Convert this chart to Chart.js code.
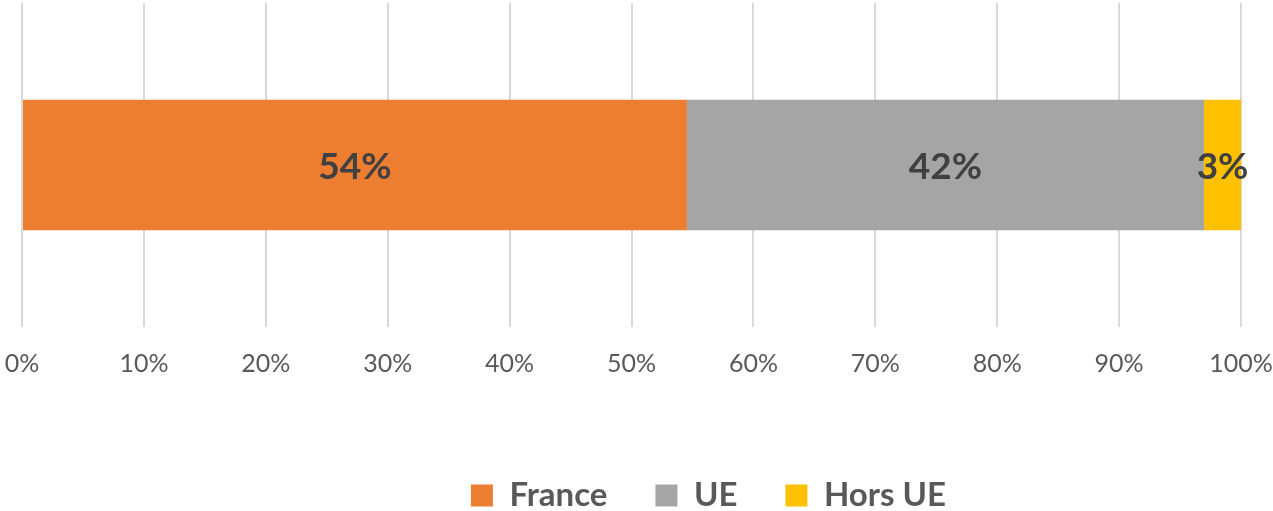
<!DOCTYPE html>
<html lang="fr">
<head>
<meta charset="UTF-8">
<title>France / UE / Hors UE</title>
<style>
  body { margin: 0; background: #fff; }
  .chart-box { position: relative; width: 1273px; height: 511px; }
</style>
</head>
<body>
<div class="chart-box"><canvas id="chart"></canvas></div>
<script src="https://cdn.jsdelivr.net/npm/chart.js"></script>
<script>
  // données
  const categories = [''];
  const seriesNames = ['France', 'UE', 'Hors UE'];
  const france = [54];
  const ue = [42];
  const horsUe = [3];
  const colors = ['#ED7D31', '#A5A5A5', '#FFC000'];

  const raw = [france, ue, horsUe];
  // barres empilées à 100 %
  const totals = categories.map((c, j) => raw.reduce((s, arr) => s + arr[j], 0));
  const shares = raw.map(arr => arr.map((v, j) => v / totals[j] * 100));

  const FONT = 'Lato, "Open Sans", sans-serif';

  const barLabels = {
    id: 'barLabels',
    afterDatasetsDraw(chart) {
      const ctx = chart.ctx;
      chart.data.datasets.forEach((ds, i) => {
        chart.getDatasetMeta(i).data.forEach((bar, j) => {
          const p = bar.getCenterPoint();
          ctx.save();
          ctx.font = 'bold 37px ' + FONT;
          ctx.fillStyle = '#404040';
          ctx.textAlign = 'center';
          ctx.textBaseline = 'middle';
          ctx.fillText(raw[i][j] + '%', p.x, p.y + 2);
          ctx.restore();
        });
      });
    }
  };

  // place la légende comme dans l'original (un peu à droite et plus bas)
  const legendShift = {
    id: 'legendShift',
    afterLayout(chart) {
      chart.legend.left += 144;
      chart.legend.top += 11;
    }
  };

  new Chart(document.getElementById('chart'), {
    type: 'bar',
    data: {
      labels: categories,
      datasets: seriesNames.map((name, i) => ({
        label: name,
        data: shares[i],
        backgroundColor: colors[i],
        borderWidth: 0,
        barPercentage: 0.403,
        categoryPercentage: 1
      }))
    },
    options: {
      indexAxis: 'y',
      responsive: true,
      maintainAspectRatio: false,
      animation: false,
      layout: { padding: { top: 3 } },
      scales: {
        x: {
          stacked: true, min: 0, max: 100,
          grid: { color: '#D9D9D9', lineWidth: 2, drawTicks: false },
          border: { display: false },
          ticks: { stepSize: 10, padding: 22, color: '#595959', font: { family: FONT, size: 25 }, callback: v => v + '%' },
          afterFit(scale) {
            scale.height = 93;
            scale.paddingLeft = 22;
            scale.paddingRight = 32;
          }
        },
        y: { stacked: true, display: false }
      },
      plugins: {
        legend: {
          position: 'bottom',
          labels: { boxWidth: 22, boxHeight: 22, padding: 48, color: '#595959', font: { family: FONT, size: 33, weight: 'bold' } }
        },
        tooltip: { enabled: false }
      }
    },
    plugins: [barLabels, legendShift]
  });
</script>
</body>
</html>
